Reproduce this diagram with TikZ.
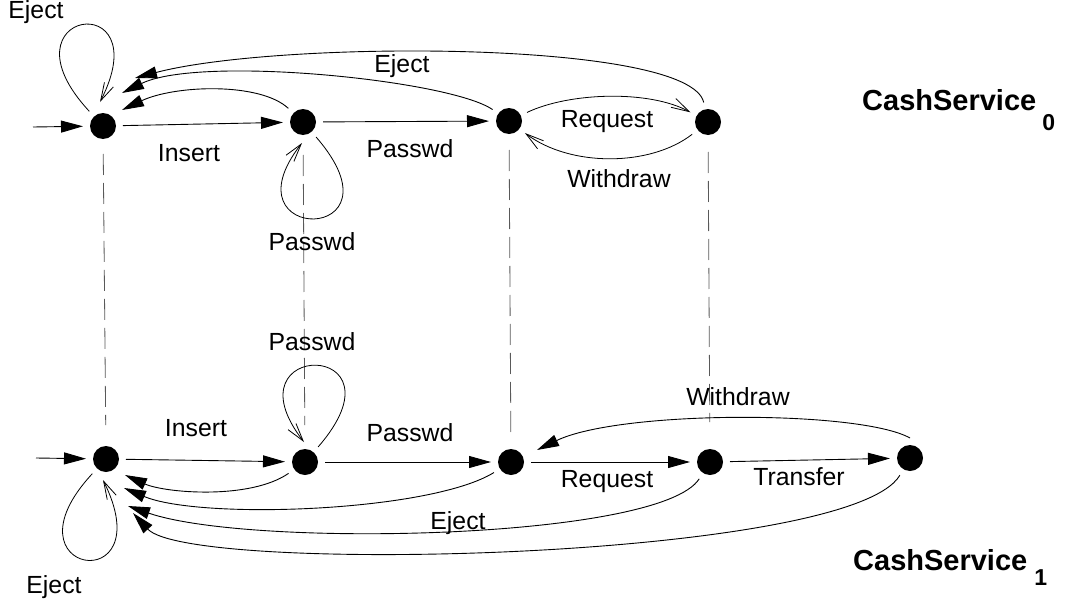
\documentclass[tikz,border=0pt]{standalone}
\usepackage{fontspec}
\setmainfont{Liberation Sans}
\usetikzlibrary{arrows.meta,calc}

\begin{document}
\begin{tikzpicture}[x=1pt,y=-1pt,
  sstate/.style={circle,fill=black,draw=none,minimum size=26pt,inner sep=0pt,outer sep=7pt},
  trans/.style={line width=0.9pt,-{Triangle[length=22pt,width=12pt]}},
  obs/.style={line width=0.8pt,-{Straight Barb[length=18pt,width=10pt]}},
  proj/.style={line width=0.8pt,black!65,dash pattern=on 21pt off 8pt},
  lbl/.style={font=\fontsize{24.8}{30}\selectfont,inner sep=0pt,anchor=base},
  title/.style={inner sep=0pt,anchor=base west},
]
\path[use as bounding box] (0,0) rectangle (1071,605);

% states of CashService_0
\node[sstate] (A0) at (103,126) {};
\node[sstate] (B0) at (303,122) {};
\node[sstate] (C0) at (509,121) {};
\node[sstate] (D0) at (708,122) {};

% states of CashService_1
\node[sstate] (A1) at (106,459) {};
\node[sstate] (B1) at (305,462) {};
\node[sstate] (C1) at (511,462) {};
\node[sstate] (D1) at (710,462) {};
\node[sstate] (E1) at (910,458) {};

% correspondence between the two machines
\draw[proj, shorten <=8pt, shorten >=14pt] (A0) -- (A1);
\draw[proj, shorten <=13pt, shorten >=17pt] (B0) -- (B1);
\draw[proj, shorten <=9pt, shorten >=6pt] (C0) -- (C1);
\draw[proj, shorten <=10pt, shorten >=20pt] (D0) -- (D1);

% transitions of CashService_0
\coordinate (in0) at (33,127);
\draw[trans] (in0) -- (A0);
\draw[trans] (A0) -- (B0);
\draw[trans] (B0) -- (C0);
\draw[obs] (C0) .. controls (570,92) and (650,90) .. (D0);
\draw[obs] (D0) .. controls (650,167) and (570,167) .. (C0);
\draw[trans] (B0) .. controls (260,82) and (175,85) .. ($(A0)+(19,-16)$);
\draw[trans] (C0) .. controls (450,80) and (200,55) .. ($(A0)+(19,-33)$);
\draw[trans] (D0) .. controls (690,40) and (280,40) .. ($(A0)+(32,-48)$);
\draw[obs] (A0) .. controls (-5,10) and (160,-15) .. ($(A0)+(-3,-24)$);
\draw[obs] (B0) .. controls (410,245) and (222,245) .. ($(B0)+(-1,21)$);

% transitions of CashService_1
\coordinate (in1) at (36,458);
\draw[trans] (in1) -- (A1);
\draw[trans] (A1) -- (B1);
\draw[trans] (B1) -- (C1);
\draw[trans] (C1) -- (D1);
\draw[trans] (D1) -- (E1);
\draw[trans] (E1.north) .. controls (860,410) and (620,410) .. ($(C1)+(26,-12)$);
\draw[trans] (B1) .. controls (250,500) and (165,493) .. ($(A1)+(19,16)$);
\draw[trans] (C1) .. controls (430,512) and (200,520) .. ($(A1)+(18,29)$);
\draw[trans] (D1) .. controls (660,540) and (250,548) .. ($(A1)+(22,47)$);
\draw[trans] (E1) .. controls (850,560) and (190,575) .. ($(A1)+(27,54)$);
\draw[obs] (B1) .. controls (412,339) and (224,339) .. ($(B1)+(-1,-20)$);
\draw[obs] (A1) .. controls (-2,575) and (163,600) .. ($(A1)+(-3,21)$);

% labels
\node[lbl] (tEjectLoop0) at (36,19) {Eject};
\node[lbl] (tEject0) at (402,72) {Eject};
\node[lbl] (tInsert0) at (189,161) {Insert};
\node[lbl] (tPasswd0) at (410,157) {Passwd};
\node[lbl] (tRequest0) at (607,127) {Request};
\node[lbl] (tWithdraw0) at (619,187) {Withdraw};
\node[lbl] (tPasswdLoop0) at (312,250) {Passwd};
\node[lbl] (tPasswdLoop1) at (312,350) {Passwd};
\node[lbl] (tInsert1) at (196,436) {Insert};
\node[lbl] (tPasswd1) at (410,441) {Passwd};
\node[lbl] (tWithdraw1) at (738,405) {Withdraw};
\node[lbl] (tRequest1) at (607,487) {Request};
\node[lbl] (tTransfer1) at (799,485) {Transfer};
\node[lbl] (tEject1) at (458,529) {Eject};
\node[lbl] (tEjectLoop1) at (54,593) {Eject};

% machine names
\node[title] (cs0) at (862,110.7) {\bfseries\fontsize{29}{34}\selectfont CashService\kern6pt\raisebox{-20pt}{\fontsize{23}{28}\selectfont 0}};
\node[title] (cs1) at (853,570.7) {\bfseries\fontsize{29}{34}\selectfont CashService\kern7pt\raisebox{-14.5pt}{\fontsize{23}{28}\selectfont 1}};
\end{tikzpicture}
\end{document}
